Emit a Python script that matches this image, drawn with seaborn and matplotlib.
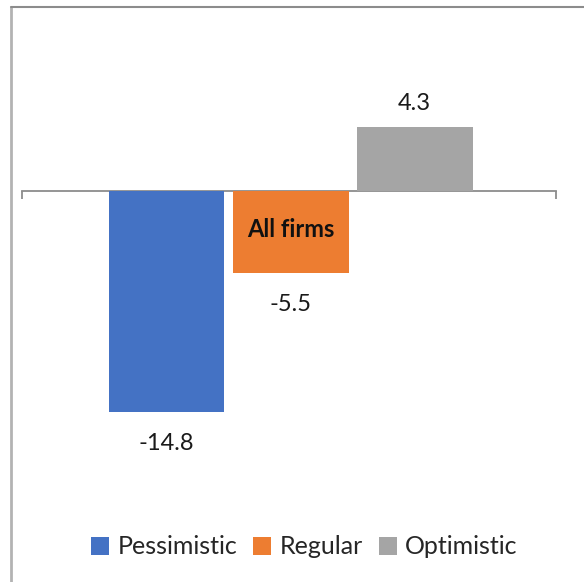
import matplotlib
matplotlib.use("Agg")
import matplotlib.pyplot as plt
import seaborn as sns
import pandas as pd
from matplotlib.lines import Line2D

categories = ["Pessimistic", "Regular", "Optimistic"]
values = [-14.8, -5.5, 4.3]
colors = ["#4472C4", "#ED7D31", "#A5A5A5"]
inner_label = "All firms"

sns.set_theme(style="white")
plt.rcParams["font.family"] = ["Lato", "DejaVu Sans"]

df = pd.DataFrame({"category": categories, "value": values})

fig = plt.figure(figsize=(5.84, 5.82), dpi=100)
W, H = 584, 582
ax_left, ax_right = 22 / W, 556 / W
ymin, ymax = -18, 8
ppu = 14.9
zero_px = 191
top_px = zero_px - ymax * ppu
bot_px = zero_px - ymin * ppu
ax = fig.add_axes([ax_left, 1 - bot_px / H, ax_right - ax_left, (bot_px - top_px) / H])

sns.barplot(data=df, x="category", y="value", hue="category",
            palette=colors, width=0.935, dodge=False, legend=True, ax=ax,
            saturation=1, linewidth=0)

ax.set_ylim(ymin, ymax)
xlim = (-1.165, 3.14)
ax.set_xlim(*xlim)
ax.set_xlabel("")
ax.set_ylabel("")
ax.set_yticks([])
for s in ["left", "right", "top"]:
    ax.spines[s].set_visible(False)
ax.spines["bottom"].set_position(("data", 0))
ax.spines["bottom"].set_color("#8c8c8c")
ax.spines["bottom"].set_linewidth(1.3)
ax.spines["bottom"].set_zorder(0)
ax.set_xticks(list(xlim))
ax.set_xticklabels(["", ""])
ax.tick_params(axis="x", direction="out", length=6, width=1.3, color="#8c8c8c", bottom=True)
ax.set_facecolor("white")

for cont, v in zip(ax.containers, values):
    ax.bar_label(cont, fmt="%.1f", padding=15.5 if v < 0 else 9.5,
                 fontsize=17, color="#1a1a1a")

ax.text(1, values[1] * 0.47, inner_label, ha="center", va="center",
        fontsize=17, fontweight="bold", color="#111111")

sns.move_legend(ax, "center", bbox_to_anchor=(304.5 / W, 1 - 547 / H),
                bbox_transform=fig.transFigure, ncol=3, frameon=False,
                title=None, fontsize=18, handlelength=0.7, handleheight=0.7,
                handletextpad=0.35, columnspacing=0.65)

fig.add_artist(Line2D([10.5 / W, 10.5 / W], [0, 1 - 7 / H], transform=fig.transFigure,
                      color="#b3b3b3", linewidth=2))
fig.add_artist(Line2D([10.5 / W, 1], [1 - 7 / H, 1 - 7 / H], transform=fig.transFigure,
                      color="#8c8c8c", linewidth=1.5))

fig.savefig("out.png", dpi=100, facecolor="white")
